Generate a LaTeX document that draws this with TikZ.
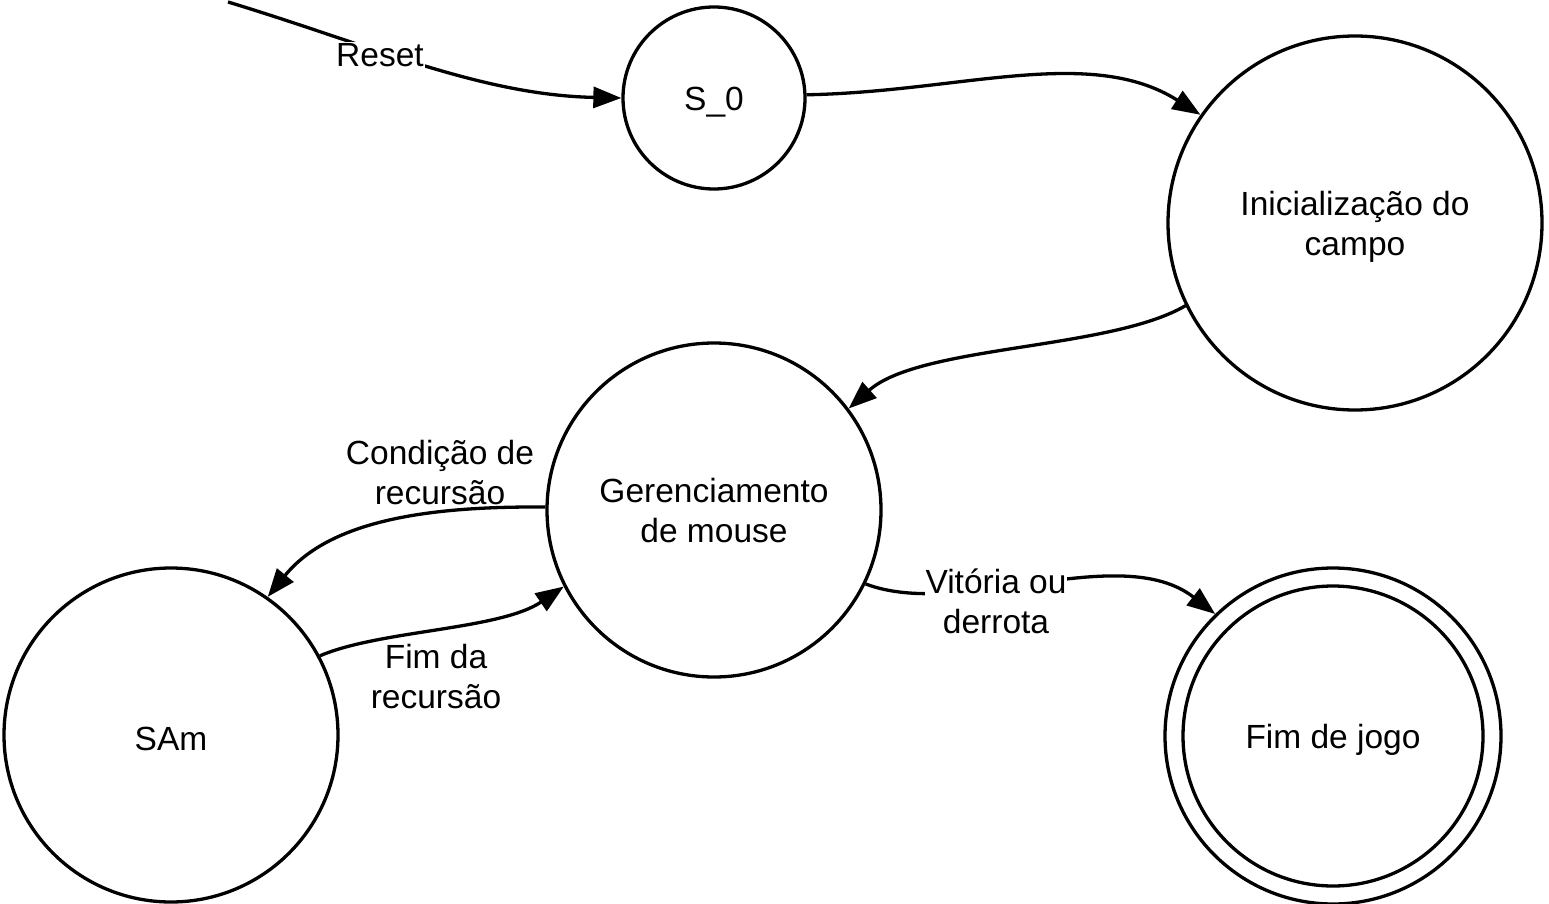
\documentclass[tikz,border=0pt]{standalone}
\usepackage{fontspec}
\setmainfont{Liberation Sans}
\usetikzlibrary{arrows.meta}
\newcommand{\dn}[1]{\raisebox{-4pt}[\height][\depth]{#1}}
\begin{document}
\begin{tikzpicture}[x=1pt,y=-1pt,
  txt/.style={font=\fontsize{33.5}{40}\selectfont,align=center},
  state/.style={draw,circle,line width=3.3pt,inner sep=0pt,txt},
  lbl/.style={fill=white,inner sep=1pt,txt},
  edge/.style={line width=3.3pt,-{Triangle[length=28pt,width=21pt]}}]
\useasboundingbox (0,0) rectangle (1549,904);
\node[state,minimum size=182pt] (s0) at (714,98) {\dn{S\_0}};
\node[state,minimum size=374pt] (init) at (1355,223) {\dn{\begin{tabular}{@{}c@{}}Inicialização do\\campo\end{tabular}}};
\node[state,minimum size=334pt] (ger) at (714,510) {\dn{\begin{tabular}{@{}c@{}}Gerenciamento\\de mouse\end{tabular}}};
\node[state,minimum size=334pt] (sam) at (171,735) {\dn{SAm}};
\node[state,minimum size=336pt] (fim) at (1333,736) {\dn{Fim de jogo}};
\draw[line width=3.3pt] (fim.center) circle[radius=150pt];
\coordinate (rst) at (228,2);
% edges
\draw[edge] (rst) .. controls (370,45) and (480,95) .. (s0.west);
\draw[edge] (s0.2) .. controls (960,92) and (1090,45) .. (init.145);
\draw[edge] (init.206) .. controls (1110,350) and (920,345) .. (ger.37);
\draw[edge] (ger.179) .. controls (430,506) and (330,520) .. (sam.55);
\draw[edge] (sam.28) .. controls (380,630) and (500,630) .. (ger.207);
\draw[edge] (ger.334) .. controls (960,620) and (1120,540) .. (fim.134);
% labels
\node[lbl] (lreset) at (380,55) {Reset};
\node[lbl,fill=none] (lcond) at (440,473) {Condição de\\recursão};
\node[lbl,fill=none] (lfimr) at (436,677) {Fim da\\recursão};
\node[lbl] (lvit) at (996,601) {Vitória ou\\derrota};
\end{tikzpicture}
\end{document}
